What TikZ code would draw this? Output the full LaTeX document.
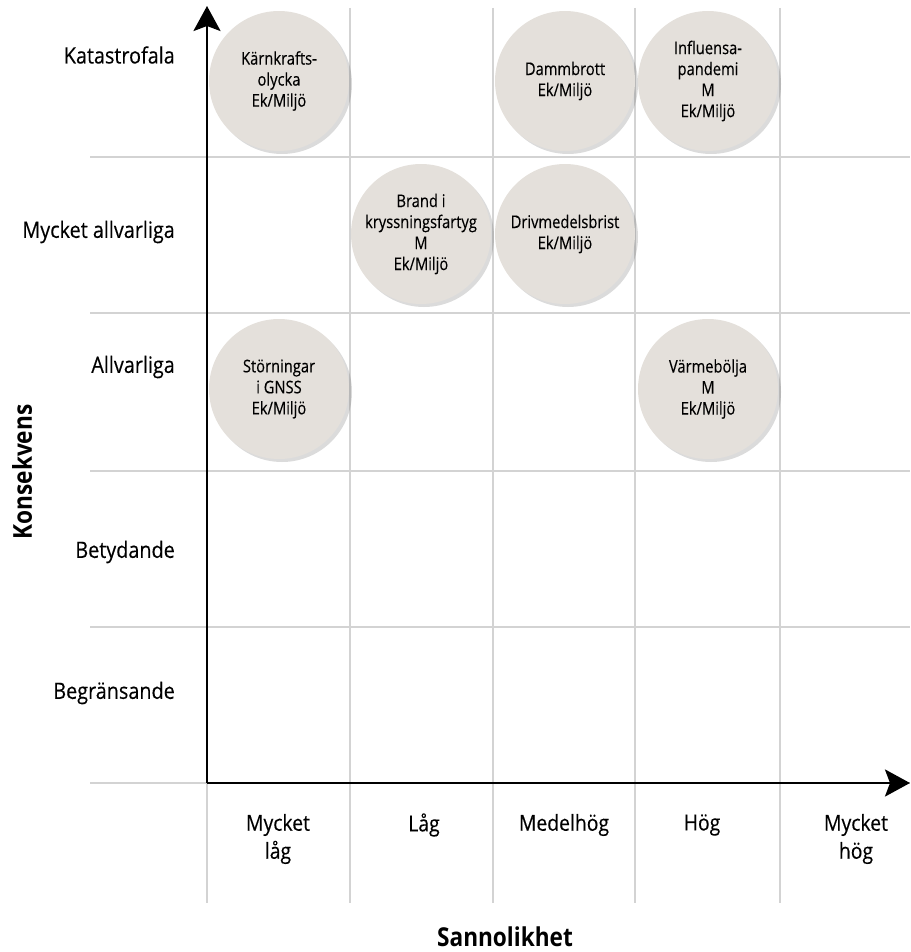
\documentclass[tikz,border=0pt]{standalone}
\usepackage{fontspec}
\setmainfont{Open Sans}[FakeStretch=0.88]
\newfontfamily\bubblefont{Open Sans}[FakeStretch=0.84,FakeBold=0.3]
\newfontfamily\labelfont{Open Sans}[FakeStretch=0.88,FakeBold=0.3]
\newfontfamily\titlefont{Open Sans}[FakeStretch=0.87]
\usetikzlibrary{arrows.meta,shadows}
\definecolor{gridc}{HTML}{D3D3D3}
\definecolor{bubble}{HTML}{E4E0DB}
\tikzset{
  gridline/.style={draw=gridc, line width=2.4pt},
  axisline/.style={draw=black, line width=2.8pt, -{Stealth[length=25pt,width=27pt,inset=5pt]}},
  risk/.style={circle, fill=bubble, minimum size=140pt, inner sep=0pt, align=center,
    font=\bubblefont\fontsize{17.5}{21}\selectfont,
    drop shadow={shadow xshift=3pt, shadow yshift=-3pt, opacity=0.2, fill=black!70}},
  rowlab/.style={anchor=east, inner sep=0pt, font=\labelfont\fontsize{22.5}{28}\selectfont},
  collab/.style={align=center, inner sep=0pt, font=\labelfont\fontsize{22}{28}\selectfont},
  axtitle/.style={inner sep=0pt, font=\titlefont\fontsize{26}{30}\selectfont\bfseries}
}
\begin{document}
\begin{tikzpicture}[x=1pt,y=-1pt]
\useasboundingbox (0,0) rectangle (910,952);
% grid
\foreach \yy in {157,313,471,627,783} {\draw[gridline] (90,\yy) -- (910,\yy);}
\foreach \xx in {350,493,635,780} {\draw[gridline] (\xx,8) -- (\xx,903);}
\draw[gridline] (207,783) -- (207,903);
% axes
\coordinate (O) at (207,783);
\coordinate (ytip) at (207,6);
\coordinate (xtip) at (910,783);
\draw[axisline] (O) -- (ytip);
\draw[axisline] (O) -- (xtip);
% bubbles
\node[risk] (karn) at (279,81) {Kärnkrafts-\\olycka\\Ek/Miljö};
\node[risk] (damm) at (565,81) {Dammbrott\\Ek/Miljö};
\node[risk] (infl) at (708,81) {Influensa-\\pandemi\\M\\Ek/Miljö};
\node[risk] (brand) at (421,234) {Brand i\\kryssningsfartyg\\M\\Ek/Miljö};
\node[risk] (driv) at (565,234) {Drivmedelsbrist\\Ek/Miljö};
\node[risk] (gnss) at (279,389) {Störningar\\i GNSS\\Ek/Miljö};
\node[risk] (varme) at (708,389) {Värmebölja\\M\\Ek/Miljö};
% row labels
\node[rowlab] (r1) at (175,55) {Katastrofala};
\node[rowlab] (r2) at (175,232) {Mycket allvarliga};
\node[rowlab] (r3) at (175,367) {Allvarliga};
\node[rowlab] (r4) at (175,552) {Betydande};
\node[rowlab] (r5) at (175,693) {Begränsande};
% column labels
\node[collab] (c1) at (278,839) {Mycket\\låg};
\node[collab] (c2) at (424,825) {Låg};
\node[collab] (c3) at (564,825) {Medelhög};
\node[collab] (c4) at (702,825) {Hög};
\node[collab] (c5) at (856,839) {Mycket\\hög};
% axis titles
\node[axtitle, rotate=90] (ky) at (22,472) {Konsekvens};
\node[axtitle, anchor=base] (kx) at (505,946) {Sannolikhet};
\end{tikzpicture}
\end{document}
